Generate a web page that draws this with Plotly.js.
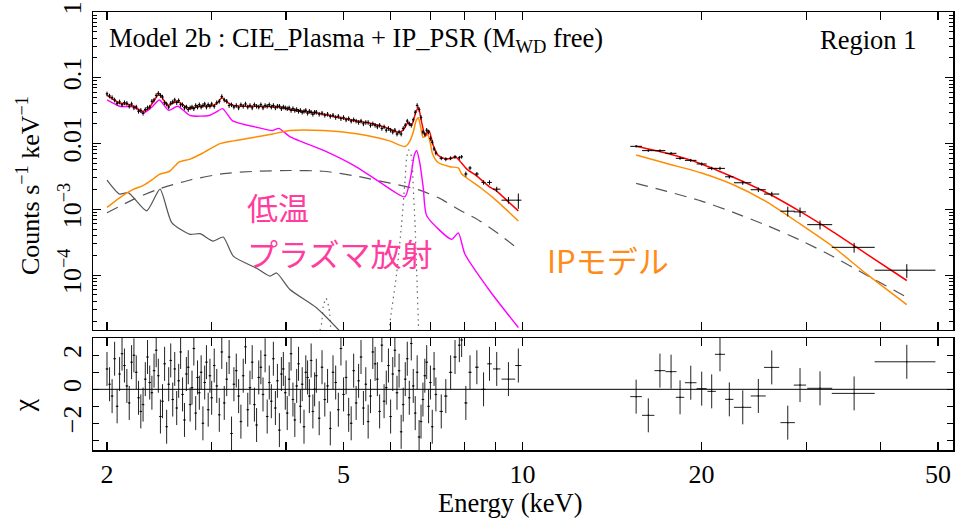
<!DOCTYPE html>
<html>
<head>
<meta charset="utf-8">
<script src="https://cdn.plot.ly/plotly-3.0.1.min.js"></script>
<style>html,body{margin:0;padding:0;background:#fff;}#chart{width:964px;height:520px;}</style>
</head>
<body>
<div id="chart"></div>
<script>
// ---------- Data: 2-7.2 keV spectrum ----------
const E_lo = [2.00,2.02,2.04,2.06,2.08,2.10,2.12,2.14,2.16,2.18,2.20,2.22,2.24,2.26,2.28,2.30,2.32,2.34,2.36,2.38,2.40,2.42,2.44,2.46,2.48,2.50,2.52,2.54,2.56,2.58,2.60,2.62,2.64,2.66,2.68,2.70,2.72,2.74,2.76,2.78,2.80,2.82,2.84,2.86,2.88,2.90,2.92,2.94,2.96,2.98,
3.00,3.03,3.06,3.09,3.12,3.15,3.18,3.21,3.24,3.27,3.30,3.33,3.36,3.39,3.42,3.45,3.48,3.51,3.54,3.57,3.60,3.63,3.66,3.69,3.72,3.75,3.78,3.81,3.84,3.87,3.90,3.93,3.96,3.99,4.02,4.05,4.08,4.11,4.14,4.17,4.20,4.23,4.26,4.29,4.32,4.35,4.38,4.41,4.44,4.47,
4.50,4.55,4.60,4.65,4.70,4.75,4.80,4.85,4.90,4.95,5.00,5.05,5.10,5.15,5.20,5.25,5.30,5.35,5.40,5.45,5.50,5.55,5.60,5.65,5.70,5.75,5.80,5.85,5.90,5.95,6.00,6.05,6.10,6.15,6.20,6.25,6.30,6.35,6.40,6.45,6.50,6.55,6.60,6.65,6.70,6.75,6.80,6.85,6.90,6.95,7.00,7.05,7.10,7.15];
const cnt_lo = [0.057,0.053,0.050,0.046,0.041,0.043,0.039,0.042,0.041,0.037,0.040,0.035,0.036,0.031,0.032,0.029,0.033,0.035,0.036,0.044,0.046,0.054,0.058,0.054,0.051,0.042,0.040,0.036,0.041,0.043,0.046,0.042,0.045,0.039,0.039,0.035,0.036,0.033,0.035,0.036,0.034,0.038,0.036,0.039,0.036,0.038,0.040,0.036,0.039,0.037,
0.040,0.037,0.042,0.044,0.052,0.046,0.044,0.038,0.039,0.036,0.038,0.035,0.039,0.037,0.040,0.036,0.038,0.035,0.039,0.037,0.036,0.039,0.035,0.038,0.037,0.039,0.036,0.038,0.035,0.037,0.037,0.034,0.036,0.035,0.034,0.035,0.032,0.034,0.032,0.033,0.031,0.032,0.030,0.031,0.032,0.029,0.031,0.030,0.028,0.030,
0.030,0.028,0.029,0.027,0.028,0.026,0.027,0.025,0.026,0.024,0.025,0.023,0.024,0.022,0.023,0.022,0.021,0.022,0.020,0.021,0.021,0.019,0.020,0.019,0.018,0.019,0.017,0.018,0.016,0.017,0.016,0.015,0.016,0.014,0.015,0.014,0.017,0.019,0.022,0.020,0.019,0.023,0.030,0.038,0.033,0.025,0.015,0.014,0.016,0.015,0.012,0.0105,0.0083,0.0072];
const chi_lo = [1.2,0.3,-0.4,1.8,-1.0,0.9,2.1,1.4,0.2,-0.8,1.6,2.0,1.0,-0.5,-1.3,-0.9,0.6,1.9,0.4,-0.2,1.1,2.3,0.8,-1.6,-0.7,1.5,-2.2,0.3,1.7,-0.6,1.2,-1.1,0.5,2.2,-0.3,-1.8,0.9,1.3,-0.9,0.1,2.4,-1.4,0.7,-0.2,1.0,-2.0,0.4,1.6,-1.2,0.8,
-0.5,1.4,0.2,-1.5,2.2,-0.8,0.6,1.9,-2.6,0.3,1.1,-0.4,-1.9,0.8,2.5,-1.2,0.1,1.6,-0.9,-2.1,0.7,1.3,-0.3,2.0,-1.6,0.4,-0.7,1.8,-1.1,0.5,-2.4,0.9,1.2,-0.2,-1.4,0.6,2.1,-0.6,-1.8,0.2,1.5,-1.0,0.3,-2.2,1.0,0.7,-0.4,1.7,-1.3,0.0,
0.8,-1.7,1.3,-0.6,0.2,-2.3,1.0,0.4,-1.2,2.4,-0.3,0.7,-1.5,-2.0,1.1,-0.8,0.5,1.9,-1.1,0.3,-1.9,-0.4,2.2,1.5,0.6,-1.3,2.6,-0.7,0.1,1.4,-1.6,0.9,2.3,-0.2,1.1,-2.5,-0.9,0.6,1.8,-0.5,2.7,0.2,-1.4,1.0,-2.8,-1.9,-0.6,0.8,1.6,-1.0,0.4,-2.2,1.2,-0.3];

// ---------- Data: 7.2-10 keV ----------
const E_mid = [7.30,7.43,7.57,7.70,7.83,7.90,8.03,8.16,8.38,8.60,8.80,9.05,9.47,9.84];
const dE_mid = [0.05,0.05,0.05,0.05,0.04,0.04,0.05,0.05,0.06,0.07,0.08,0.13,0.25,0.12];
const cnt_mid = [0.0060,0.0058,0.0060,0.0063,0.0061,0.0063,0.00345,0.00426,0.00345,0.00257,0.00257,0.00203,0.00138,0.00138];
const err_mid = [0.0004,0.0004,0.0004,0.0004,0.0004,0.0004,0.0003,0.0003,0.00025,0.0002,0.0002,0.00018,0.00016,0.00036];
const chi_mid = [-1.3,-0.4,1.0,1.9,2.6,2.9,-0.8,1.0,1.3,0.0,1.5,1.2,0.6,1.4];

// ---------- Data: hard X-ray band ----------
const E_hi = [15.53,16.28,17.03,17.78,18.41,19.19,20.02,20.81,21.49,22.28,23.47,24.93,26.26,27.94,29.30,31.66,36.13,44.31];
const dE_hi = [0.35,0.39,0.36,0.38,0.30,0.43,0.39,0.34,0.42,0.36,0.79,0.73,0.77,0.78,0.70,1.53,3.0,5.2];
const cnt_hi = [0.00909,0.00782,0.00782,0.00711,0.00597,0.00556,0.00490,0.00420,0.00420,0.00313,0.00254,0.00199,0.00171,0.000939,0.000916,0.000586,0.000265,0.000119];
const err_hi = [0.0004,0.00035,0.00035,0.0003,0.0003,0.0003,0.00028,0.00025,0.00025,0.0002,0.00018,0.00016,0.00014,0.00016,0.00015,0.00009,0.000045,0.000028];
const chi_hi = [-0.43,-1.53,1.10,1.04,-0.47,0.39,0.04,-0.12,2.06,-0.59,-1.06,-0.39,1.29,-1.96,0.25,0.06,-0.24,1.62];

// ---------- Models ----------
const E_tot_lo = [2.00,2.05,2.10,2.16,2.22,2.29,2.35,2.40,2.45,2.49,2.53,2.58,2.63,2.69,2.76,2.87,3.02,3.08,3.12,3.18,3.26,3.40,3.57,3.75,3.91,4.06,4.22,4.40,4.62,4.90,5.26,5.60,5.90,6.18,6.30,6.42,6.51,6.60,6.68,6.76,6.86,6.96,7.08,7.22,7.41,7.55,7.73,7.85,8.06,8.38,8.80,9.05,9.47,9.84];
const tot_lo = [0.054,0.047,0.041,0.040,0.037,0.031,0.034,0.045,0.057,0.046,0.038,0.041,0.044,0.038,0.034,0.037,0.038,0.043,0.050,0.043,0.038,0.037,0.037,0.0365,0.036,0.033,0.031,0.030,0.028,0.025,0.022,0.020,0.0175,0.0149,0.016,0.021,0.019,0.028,0.036,0.022,0.0132,0.0158,0.0093,0.0066,0.0059,0.0059,0.0062,0.0054,0.0041,0.0032,0.0022,0.0019,0.0013,0.00095];
const E_tot_hi = [15.53,17.49,19.95,22.63,25.76,29.30,33.34,37.94,44.30];
const tot_hi = [0.00909,0.00711,0.00495,0.00308,0.00179,0.000932,0.000453,0.000209,0.000083];

const E_ip_lo = [2.00,2.10,2.21,2.30,2.38,2.45,2.55,2.64,2.76,2.90,3.09,3.26,3.49,3.80,4.06,4.63,5.26,5.97,6.34,6.45,6.55,6.62,6.68,6.74,6.80,6.86,6.93,7.00,7.05,7.20,7.55,7.80,7.90,8.06,8.49,9.05,9.84];
const ip_lo = [0.00107,0.00150,0.00200,0.00230,0.00280,0.00340,0.00380,0.00520,0.00580,0.0072,0.0099,0.0110,0.0122,0.0140,0.0158,0.0158,0.0141,0.0110,0.0090,0.0105,0.0150,0.0220,0.0247,0.0180,0.0125,0.0128,0.0137,0.0100,0.0072,0.0052,0.00445,0.00426,0.00345,0.00300,0.00215,0.00135,0.000667];
const E_ip_hi = [15.53,17.49,19.95,22.63,25.76,29.30,33.34,37.94,44.30];
const ip_hi = [0.00672,0.00498,0.00361,0.00237,0.00130,0.000601,0.000268,0.0001036,0.0000357];

const E_cie_lo = [2.00,2.10,2.22,2.30,2.38,2.45,2.54,2.63,2.76,2.97,3.05,3.13,3.25,3.57,3.80,3.89,4.06,4.64,5.26,5.83,6.34,6.48,6.58,6.64,6.72,6.81,6.90,7.60,7.80,8.00,8.82,9.84];
const cie_lo = [0.046,0.037,0.036,0.029,0.036,0.046,0.032,0.037,0.0267,0.0267,0.030,0.034,0.0224,0.0177,0.0158,0.017,0.0128,0.0078,0.0044,0.0024,0.00155,0.0030,0.0068,0.0078,0.0050,0.0021,0.0008,0.00035,0.00044,0.00021,0.000057,0.000016];

const E_cont_lo = [2.00,2.22,2.43,2.76,3.14,3.57,4.06,4.62,5.26,5.99,6.68,7.26,7.85,8.45,9.10,9.84];
const cont_lo = [0.00089,0.00143,0.0020,0.0028,0.0035,0.0038,0.0039,0.0038,0.0032,0.0025,0.0020,0.00147,0.00097,0.00068,0.00043,0.00025];
const E_cont_hi = [15.53,17.49,19.95,22.63,25.76,29.30,33.34,37.94,44.30];
const cont_hi = [0.00248,0.00188,0.00135,0.000900,0.000570,0.000342,0.000191,0.0001000,0.0000461];

const E_hot = [2.00,2.10,2.172,2.332,2.456,2.570,2.758,2.867,3.018,3.137,3.262,3.572,3.760,3.858,4.063,4.506,4.932,5.10];
const hot = [0.00279,0.00171,0.00180,0.000949,0.00203,0.000629,0.000418,0.000427,0.000330,0.000380,0.000195,0.000127,0.0000966,0.000108,0.0000605,0.0000317,0.0000140,0.0000100];

const E_fe = [5.93,5.99,6.14,6.26,6.345,6.386,6.44,6.51,6.55,6.595,6.64,6.68,6.72];
const fe = [0.000008,0.000020,0.000104,0.00060,0.00272,0.00618,0.0080,0.00618,0.00215,0.00060,0.000104,0.000020,0.000005];
const E_line2 = [4.54,4.564,4.594,4.623,4.672,4.72,4.74,4.77];
const line2 = [0.000010,0.0000145,0.0000187,0.0000336,0.0000446,0.0000336,0.0000254,0.000010];

// ---------- Tick labels ----------
const xTickVals = [2,3,4,5,6,7,8,9,10,20,30,40,50];
const xTickText = ['2','','','5','','','','','10','20','','','50'];
const yTickVals = [1e-4,1e-3,0.01,0.1,1];
const yTickText = ['10<sup>−4</sup>','10<sup>−3</sup>','0.01','0.1','1'];
const chiTickVals = [-3,-2,-1,0,1,2];
const chiTickText = ['','−2','','0','','2'];

// ---------- Styling ----------
const SERIF = 'Liberation Serif, Times New Roman, serif';
const CJK = 'Noto Sans CJK JP, sans-serif';
const RED = '#ff0000', ORANGE = '#ff8c00', MAGENTA = '#ff00ff', GREY = '#555555';

function line(x, y, color, width, dash, xa, ya) {
  return {x: x, y: y, mode: 'lines', type: 'scatter', xaxis: xa || 'x', yaxis: ya || 'y',
    line: {color: color, width: width, dash: dash || 'solid', shape: 'spline', smoothing: 0.6},
    hoverinfo: 'skip', showlegend: false};
}

const traces = [
  line(E_line2, line2, '#666', 1.2, '1.5px,4px'),
  line(E_fe, fe, '#666', 1.2, '1.5px,4px'),
  line(E_hot, hot, '#555', 1.2),
  line(E_cont_lo, cont_lo, GREY, 1.2, '12px,8px'),
  line(E_cont_hi, cont_hi, GREY, 1.2, '12px,8px'),
  line(E_cie_lo, cie_lo, MAGENTA, 1.4),
  line(E_ip_lo, ip_lo, ORANGE, 1.5),
  line(E_ip_hi, ip_hi, ORANGE, 1.5),
  line(E_tot_lo, tot_lo, RED, 1.5),
  line(E_tot_hi, tot_hi, RED, 1.5),
  {x: E_lo, y: cnt_lo, mode: 'markers', type: 'scatter', xaxis: 'x', yaxis: 'y',
   marker: {size: 1.5, color: '#000'},
   error_y: {type: 'percent', value: 8, color: '#000', thickness: 1, width: 0},
   error_x: {type: 'percent', value: 0.5, color: '#000', thickness: 1, width: 0},
   hoverinfo: 'skip', showlegend: false},
  {x: E_mid, y: cnt_mid, mode: 'markers', type: 'scatter', xaxis: 'x', yaxis: 'y',
   marker: {size: 1.5, color: '#000'},
   error_y: {type: 'data', array: err_mid, color: '#000', thickness: 1, width: 0},
   error_x: {type: 'data', array: dE_mid, color: '#000', thickness: 1, width: 0},
   hoverinfo: 'skip', showlegend: false},
  {x: E_hi, y: cnt_hi, mode: 'markers', type: 'scatter', xaxis: 'x', yaxis: 'y',
   marker: {size: 1.5, color: '#000'},
   error_y: {type: 'data', array: err_hi, color: '#000', thickness: 1, width: 0},
   error_x: {type: 'data', array: dE_hi, color: '#000', thickness: 1, width: 0},
   hoverinfo: 'skip', showlegend: false},
  // residuals
  {x: E_lo, y: chi_lo, mode: 'markers', type: 'scatter', xaxis: 'x2', yaxis: 'y2',
   marker: {size: 1.5, color: '#000'},
   error_y: {type: 'constant', value: 1, color: '#222', thickness: 1, width: 0},
   error_x: {type: 'percent', value: 0.5, color: '#222', thickness: 1, width: 0},
   hoverinfo: 'skip', showlegend: false},
  {x: E_mid, y: chi_mid, mode: 'markers', type: 'scatter', xaxis: 'x2', yaxis: 'y2',
   marker: {size: 1.5, color: '#000'},
   error_y: {type: 'constant', value: 1, color: '#222', thickness: 1, width: 0},
   error_x: {type: 'data', array: dE_mid, color: '#222', thickness: 1, width: 0},
   hoverinfo: 'skip', showlegend: false},
  {x: E_hi, y: chi_hi, mode: 'markers', type: 'scatter', xaxis: 'x2', yaxis: 'y2',
   marker: {size: 1.5, color: '#000'},
   error_y: {type: 'constant', value: 1, color: '#222', thickness: 1, width: 0},
   error_x: {type: 'data', array: dE_hi, color: '#222', thickness: 1, width: 0},
   hoverinfo: 'skip', showlegend: false}
];

const yMinor = [];
for (let d = -5; d <= -1; d++) for (let m = 2; m <= 9; m++) yMinor.push(m * Math.pow(10, d));

const xRange = [0.2775, 1.7242];
const TICKFONT = {family: SERIF, size: 26, color: '#000'};
const axisCommon = {
  type: 'log', range: xRange, showline: true, linecolor: '#000', linewidth: 1.5,
  mirror: 'allticks', ticks: 'inside', ticklen: 8, tickwidth: 1.2, tickcolor: '#000',
  tickmode: 'array', tickvals: xTickVals, ticktext: xTickText,
  showgrid: false, zeroline: false, tickfont: TICKFONT
};

function ann(x, y, text, font, opts) {
  return Object.assign({xref: 'paper', yref: 'paper', x: x, y: y, text: text, showarrow: false,
    xanchor: 'center', yanchor: 'middle', font: font}, opts || {});
}

const layout = {
  width: 964, height: 520,
  margin: {l: 93, r: 11, t: 12, b: 70},
  paper_bgcolor: '#fff', plot_bgcolor: '#fff',
  showlegend: false,
  xaxis: Object.assign({}, axisCommon, {anchor: 'y', showticklabels: false, matches: 'x2'}),
  xaxis2: Object.assign({}, axisCommon, {anchor: 'y2', showticklabels: true}),
  yaxis: {
    domain: [0.274, 1], type: 'log', range: [-4.833, 0], anchor: 'x',
    showline: true, linecolor: '#000', linewidth: 1.5, mirror: 'allticks',
    ticks: 'inside', ticklen: 8, tickwidth: 1.2, tickcolor: '#000',
    tickmode: 'array', tickvals: yTickVals, ticktext: yTickText, tickangle: -90,
    minor: {tickmode: 'array', tickvals: yMinor, ticks: 'inside', ticklen: 4, tickwidth: 1, tickcolor: '#000'},
    showgrid: false, zeroline: false, tickfont: TICKFONT
  },
  yaxis2: {
    domain: [0, 0.2557], range: [-3.57, 3.02], anchor: 'x2',
    showline: true, linecolor: '#000', linewidth: 1.5, mirror: 'allticks',
    ticks: 'inside', ticklen: 6, tickwidth: 1.2, tickcolor: '#000',
    tickmode: 'array', tickvals: chiTickVals, ticktext: chiTickText, tickangle: -90,
    showgrid: false, zeroline: false, tickfont: TICKFONT
  },
  shapes: [
    {type: 'line', xref: 'x2 domain', yref: 'y2', x0: 0, x1: 1, y0: 0, y1: 0, line: {color: '#000', width: 1}}
  ],
  annotations: [
    ann(-0.0756, 0.605, 'Counts s<sup>−1</sup> keV<sup>−1</sup>', {family: SERIF, size: 26, color: '#000'}, {textangle: -90}),
    ann(-0.081, 0.1027, 'χ', {family: SERIF, size: 28, color: '#000'}, {textangle: -90}),
    ann(0.485, -0.1215, 'Energy (keV)', {family: SERIF, size: 26.5, color: '#000'}),
    ann(0.0163, 0.936, 'Model 2b : CIE_Plasma + IP_PSR (M<sub>WD</sub> free)', {family: SERIF, size: 26.5, color: '#000'}, {xanchor: 'left'}),
    ann(0.9593, 0.936, 'Region 1', {family: SERIF, size: 26.5, color: '#000'}, {xanchor: 'right'}),
    ann(0.1767, 0.5548, '低温', {family: CJK, size: 31, color: '#ff3d9e'}, {xanchor: 'left'}),
    ann(0.1767, 0.4498, 'プラズマ放射', {family: CJK, size: 31, color: '#ff3d9e'}, {xanchor: 'left'}),
    ann(0.5256, 0.4338, 'IPモデル', {family: CJK, size: 31, color: '#ff8c1a'}, {xanchor: 'left'})
  ]
};

Plotly.newPlot('chart', traces, layout, {staticPlot: true, displayModeBar: false});
</script>
</body>
</html>
